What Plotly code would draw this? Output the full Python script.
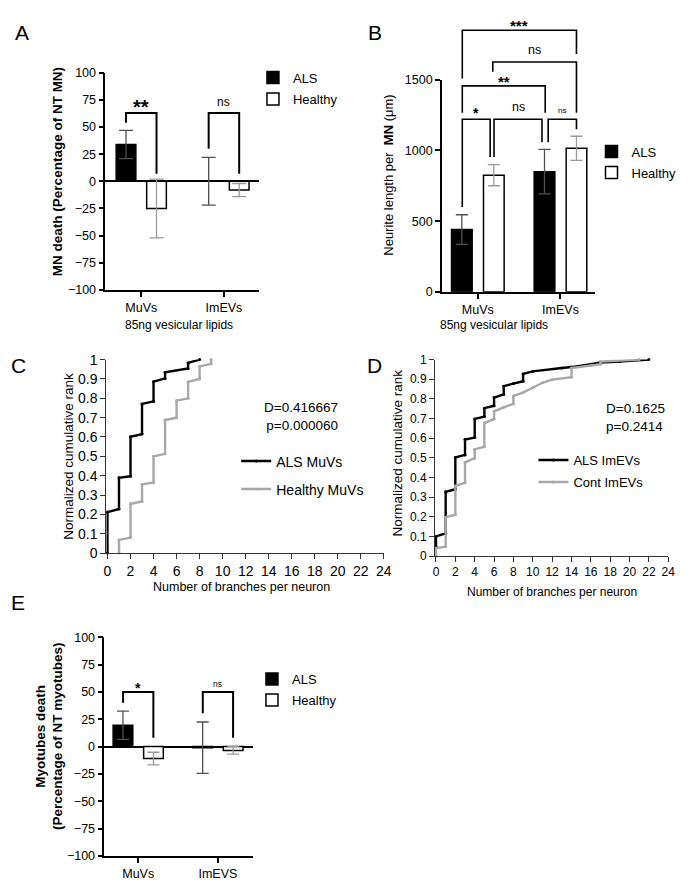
import plotly.graph_objects as go

W, H = 692, 896
FONT = "Liberation Sans, Arial, Helvetica, sans-serif"

# ---------------- data ----------------
groups_AB = ["MuVs", "ImEVs"]
groups_E = ["MuVs", "ImEVS"]

A_als = [34, 0]
A_als_err = [13, 22]
A_healthy = [-25, -8]
A_healthy_err = [27, 6]

B_als = [440, 850]
B_als_err = [105, 158]
B_healthy = [825, 1015]
B_healthy_err = [75, 85]

E_als = [19.5, -1]
E_als_err = [13, 23.5]
E_healthy = [-11, -3.5]
E_healthy_err = [5.8, 3.5]

# cumulative distributions (vertices of the step curves)
C_als_x = [0, 0, 1, 1, 2, 2, 3, 3, 4, 4, 5, 5, 7, 7, 8]
C_als_y = [0, 0.212, 0.228, 0.389, 0.397, 0.601, 0.615, 0.771, 0.784, 0.886, 0.903, 0.934, 0.954, 0.983, 1.0]
C_hea_x = [1, 1, 2, 2, 3, 3, 4, 4, 5, 5, 6, 6, 7, 7, 8, 8, 9, 9]
C_hea_y = [0, 0.068, 0.08, 0.255, 0.267, 0.355, 0.365, 0.50, 0.513, 0.688, 0.70, 0.788, 0.80, 0.885, 0.90, 0.965, 0.978, 1.0]

D_als_x = [0, 0, 1, 1, 2, 2, 3, 3, 4, 4, 5, 5, 6, 6, 7, 7, 8, 9, 9, 10, 13, 14, 16, 17, 19, 22]
D_als_y = [0.05, 0.10, 0.115, 0.327, 0.34, 0.502, 0.515, 0.593, 0.603, 0.698, 0.71, 0.753, 0.765, 0.807,
           0.823, 0.865, 0.878, 0.89, 0.927, 0.94, 0.957, 0.962, 0.977, 0.985, 0.99, 1.0]
D_cont_x = [0, 0, 1, 1, 2, 2, 3, 3, 4, 4, 5, 5, 6, 6, 7, 8, 8, 9, 10, 11, 12, 14, 14, 16, 17, 17, 21]
D_cont_y = [0, 0.04, 0.048, 0.198, 0.21, 0.357, 0.373, 0.477, 0.498, 0.543, 0.557, 0.677, 0.698, 0.737,
            0.757, 0.775, 0.815, 0.832, 0.857, 0.882, 0.898, 0.91, 0.957, 0.97, 0.977, 0.99, 1.0]

death_ticks = [-100, -75, -50, -25, 0, 25, 50, 75, 100]
neurite_ticks = [0, 500, 1000, 1500]
cdf_xticks = [0, 2, 4, 6, 8, 10, 12, 14, 16, 18, 20, 22, 24]
cdf_yticks = [0, 0.1, 0.2, 0.3, 0.4, 0.5, 0.6, 0.7, 0.8, 0.9, 1]
cdf_yticklabels = ["0", "0.1", "0.2", "0.3", "0.4", "0.5", "0.6", "0.7", "0.8", "0.9", "1"]

C_stats = ["D=0.416667", "p=0.000060"]
D_stats = ["D=0.1625", "p=0.2414"]

# significance brackets: (label, x0, x1, top, left_end, right_end, text_y, size, bold)
A_sig = [("**", -0.1845, 0.1845, 63, 54, 7, 68.5, 20, True),
         ("ns", 0.8155, 1.1845, 63, 30, 7, 73, 12, False)]
B_sig = [("*", -0.188, 0.149, 1220, 600, 954, 1264, 14, True),
         ("ns", 0.196, 0.776, 1220, 954, 1058, 1306, 12.5, False),
         ("ns", 0.851, 1.193, 1220, 1058, 1150, 1285, 8, False),
         ("**", -0.188, 0.815, 1456, 1266, 1266, 1486, 15, True),
         ("ns", 0.181, 1.193, 1625, 1556, 1266, 1708, 12.5, False),
         ("***", -0.188, 1.193, 1850, 1509, 1682, 1882, 15, True)]
E_sig = [("*", -0.19, 0.19, 50, 40, 8, 53.5, 14, True),
         ("ns", 0.81, 1.19, 50, 30.5, 8, 57, 8.5, False)]


def dom_x(l, r):
    return [l / W, r / W]


def dom_y(top, bottom):
    return [1 - bottom / H, 1 - top / H]


fig = go.Figure()
shapes, annos = [], []


def bar_panel(n, cats, als, als_err, hea, hea_err, S, dist, bw, cap):
    xa = "x" if n == 1 else f"x{n}"
    ya = "y" if n == 1 else f"y{n}"
    leg = "legend" if n == 1 else f"legend{n}"
    c = dist / 2 / S
    w = bw / S
    fig.add_bar(x=cats, y=als, name="ALS", xaxis=xa, yaxis=ya, width=w, offset=-c - w / 2,
                marker=dict(color="black", line=dict(color="black", width=1.5)),
                error_y=dict(type="data", array=als_err, color="#505050", thickness=1.3, width=cap),
                legend=leg, legendgroup=f"g{n}a")
    fig.add_bar(x=cats, y=hea, name="Healthy", xaxis=xa, yaxis=ya, width=w, offset=c - w / 2,
                marker=dict(color="white", line=dict(color="black", width=1.5)),
                error_y=dict(type="data", array=hea_err, color="#9a9a9a", thickness=1.3, width=cap),
                legend=leg, legendgroup=f"g{n}b")


def brackets(n, sig, yr, lw):
    xa = "x" if n == 1 else f"x{n}"
    ya = "y" if n == 1 else f"y{n}"

    def d(v):
        return (v - yr[0]) / (yr[1] - yr[0])

    for lab, x0, x1, top, yl, yrr, ty, size, bold in sig:
        shapes.append(dict(type="path", xref=xa, yref=f"{ya} domain",
                           path=f"M{x0},{d(yl)} L{x0},{d(top)} L{x1},{d(top)} L{x1},{d(yrr)}",
                           line=dict(color="black", width=lw)))
        annos.append(dict(x=(x0 + x1) / 2, y=d(ty), xref=xa, yref=f"{ya} domain",
                          text=f"<b>{lab}</b>" if bold else lab, showarrow=False,
                          font=dict(size=size, color="black"), xanchor="center", yanchor="middle"))


bar_panel(1, groups_AB, A_als, A_als_err, A_healthy, A_healthy_err, 84, 31, 20, 7)
bar_panel(2, groups_AB, B_als, B_als_err, B_healthy, B_healthy_err, 84, 32.5, 21, 6)
bar_panel(5, groups_E, E_als, E_als_err, E_healthy, E_healthy_err, 81, 31, 20, 6)

brackets(1, A_sig, [-100, 100], 2)
brackets(2, B_sig, [0, 1500], 1.6)
brackets(5, E_sig, [-100, 100], 2)

# cumulative curves
fig.add_scatter(x=C_als_x, y=C_als_y, name="ALS MuVs", xaxis="x3", yaxis="y3", mode="lines+markers",
                line=dict(color="black", width=2.4), marker=dict(size=3, color="black"),
                cliponaxis=False, legend="legend3", legendgroup="c1")
fig.add_scatter(x=C_hea_x, y=C_hea_y, name="Healthy MuVs", xaxis="x3", yaxis="y3", mode="lines+markers",
                line=dict(color="#a8a8a8", width=2.4), marker=dict(size=3, color="#a8a8a8"),
                cliponaxis=False, legend="legend3", legendgroup="c2")
fig.add_scatter(x=D_als_x, y=D_als_y, name="ALS ImEVs", xaxis="x4", yaxis="y4", mode="lines+markers",
                line=dict(color="black", width=2.4), marker=dict(size=3, color="black"),
                cliponaxis=False, legend="legend4", legendgroup="d1")
fig.add_scatter(x=D_cont_x, y=D_cont_y, name="Cont ImEVs", xaxis="x4", yaxis="y4", mode="lines+markers",
                line=dict(color="#a8a8a8", width=2.4), marker=dict(size=3, color="#a8a8a8"),
                cliponaxis=False, legend="legend4", legendgroup="d2")


def cat_xaxis(l, r, cat0, S, ya):
    return dict(domain=dom_x(l, r), range=[-(cat0 - l) / S, (r - cat0) / S], type="category", anchor=ya,
                showline=True, linecolor="black", linewidth=1.6, ticks="outside", ticklen=5, tickwidth=1.6,
                tickcolor="black", tickfont=dict(size=12.5), showgrid=False, zeroline=False)


def val_yaxis(top, bottom, xa, yr, ticks, zero):
    return dict(domain=dom_y(top, bottom), range=yr, anchor=xa, tickvals=ticks, showline=True,
                linecolor="black", linewidth=1.6, ticks="outside", ticklen=5, tickwidth=1.6,
                tickcolor="black", tickfont=dict(size=12.5), showgrid=False,
                zeroline=zero, zerolinecolor="black", zerolinewidth=1.6)


def cdf_axes(l, r, top, bottom, xa, ya, fs):
    xd = dict(domain=dom_x(l, r), range=[-0.1, 24], anchor=ya, tickvals=cdf_xticks, showline=True,
              linecolor="#333", linewidth=1, ticks="outside", ticklen=5, tickcolor="#333",
              tickfont=dict(size=fs), showgrid=False, zeroline=False)
    yd = dict(domain=dom_y(top, bottom), range=[0, 1.0], anchor=xa, tickvals=cdf_yticks,
              ticktext=cdf_yticklabels, showline=True, linecolor="#333", linewidth=1, ticks="outside",
              ticklen=5, tickcolor="#333", tickfont=dict(size=fs), showgrid=False, zeroline=False)
    return xd, yd


x3, y3 = cdf_axes(105, 387, 358, 555, "x3", "y3", 14)
x4, y4 = cdf_axes(439, 676, 358, 558, "x4", "y4", 12)


def paper_text(text, px, py, size, xanchor="center", angle=0, align="center"):
    annos.append(dict(x=px / W, y=1 - py / H, xref="paper", yref="paper", text=text, textangle=angle,
                      showarrow=False, font=dict(size=size, color="black"), align=align,
                      xanchor=xanchor, yanchor="middle"))


# panel letters
for lab, px, py in [("A", 19, 24.5), ("B", 378, 24.5), ("C", 16, 364.5), ("D", 377, 364.5), ("E", 15, 605.5)]:
    paper_text(lab, px, py, 21)

# axis titles
paper_text("<b>MN death (Percentage of NT MN)</b>", 55, 167, 13.5, angle=-90)
paper_text("85ng vesicular lipids", 179, 323, 12)
paper_text("Neurite length per  <b>MN</b> (μm)", 392, 170, 13, angle=-90)
paper_text("85ng vesicular lipids", 499, 323, 12)
paper_text("Normalized cumulative rank", 67, 456, 13.5, angle=-90)
paper_text("Number of branches per neuron", 242.5, 590, 12.5)
paper_text("Normalized cumulative rank", 401, 453, 13.5, angle=-90)
paper_text("Number of branches per neuron", 557.5, 595, 12)
paper_text("<b>Myotubes death</b><br><b>(Percentage of NT myotubes)</b>", 46.5, 741.5, 13.5, angle=-90)

# KS statistics
paper_text("<br>".join(C_stats), 342, 416, 13.5, "right", align="right")
paper_text("<br>".join(D_stats), 643, 417, 13.5, "center", align="left")


def legend_at(px, py, size, gap):
    return dict(x=px / W, y=1 - py / H, xanchor="left", yanchor="top", bgcolor="rgba(0,0,0,0)",
                font=dict(size=size, color="black"), tracegroupgap=gap, itemclick=False,
                itemdoubleclick=False)


fig.update_layout(
    width=W, height=H, margin=dict(l=0, r=0, t=0, b=0),
    paper_bgcolor="white", plot_bgcolor="white",
    font=dict(family=FONT, color="black", size=12.5),
    barmode="group", showlegend=True,
    xaxis=cat_xaxis(104, 260, 140.5, 84, "y"),
    yaxis=val_yaxis(66, 287, "x", [-100, 100], death_ticks, True),
    xaxis2=cat_xaxis(446, 602, 482.5, 84, "y2"),
    yaxis2=val_yaxis(73, 289, "x2", [0, 1500], neurite_ticks, False),
    xaxis3=x3, yaxis3=y3, xaxis4=x4, yaxis4=y4,
    xaxis5=cat_xaxis(103, 254, 137.4, 81, "y5"),
    yaxis5=val_yaxis(640.7, 863.3, "x5", [-100, 100], death_ticks, True),
    legend=legend_at(254, 55.5, 13, 1.6),
    legend2=legend_at(598, 131, 13, 1.1),
    legend3=legend_at(237, 445.4, 14, 6.8),
    legend4=legend_at(539, 445, 13, 2.1),
    legend5=legend_at(253, 668, 13, 1.1),
    shapes=shapes, annotations=annos,
)

fig.write_html("out.html", config={"displayModeBar": False},
               post_script="document.documentElement.style.margin='0';document.body.style.margin='0';"
                           "document.body.style.padding='0';")
